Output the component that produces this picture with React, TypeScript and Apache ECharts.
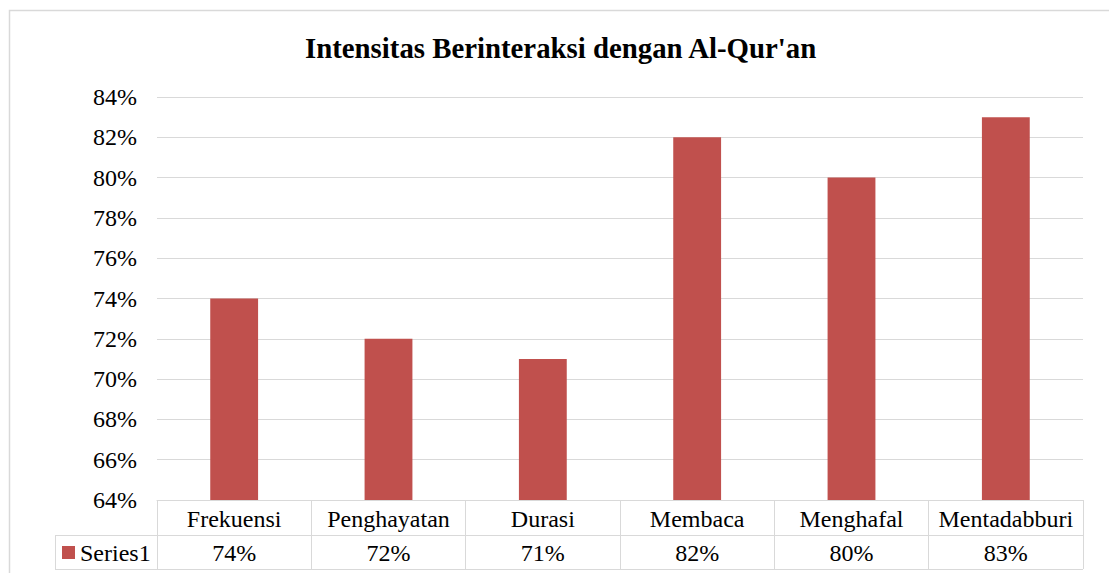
import React, { useEffect, useRef } from "react";
import * as echarts from "echarts";

const categories = ["Frekuensi", "Penghayatan", "Durasi", "Membaca", "Menghafal", "Mentadabburi"];
const values = [74, 72, 71, 82, 80, 83];
const seriesName = "Series1";
const title = "Intensitas Berinteraksi dengan Al-Qur'an";

const FONT = "'Liberation Serif', 'Times New Roman', serif";
const GRAY = "#d9d9d9";
const RED = "#c0504d";

export default function App() {
  const ref = useRef<HTMLDivElement>(null);
  useEffect(() => {
    if (!ref.current) return;
    const chart = echarts.init(ref.current, null, { renderer: "svg" });
    const L = 157, R = 1083, T = 97, B = 500;
    chart.setOption({
      animation: false,
      backgroundColor: "#fff",
      title: {
        text: title,
        left: 305,
        top: 33,
        padding: 0,
        textStyle: { fontFamily: FONT, fontSize: 28.8, fontWeight: "bold", color: "#000" },
      },
      grid: { left: L, right: 1109 - R, top: T, bottom: 573 - B },
      xAxis: [
        {
          type: "category",
          data: categories,
          position: "bottom",
          axisLine: { show: true, lineStyle: { color: GRAY, width: 1 } },
          axisTick: { show: true, interval: 0, length: 69, lineStyle: { color: GRAY, width: 1 } },
          axisLabel: { interval: 0, margin: 7, fontFamily: FONT, fontSize: 24, color: "#000" },
        },
        {
          type: "category",
          data: categories,
          position: "bottom",
          offset: 35,
          axisLine: { show: false },
          axisTick: { show: false },
          axisLabel: {
            interval: 0,
            margin: 6,
            fontFamily: FONT,
            fontSize: 24,
            color: "#000",
            formatter: (_v: string, i: number) => `${values[i]}%`,
          },
        },
      ],
      yAxis: {
        type: "value",
        min: 64,
        max: 84,
        interval: 2,
        axisLine: { show: false },
        axisTick: { show: false },
        splitLine: { lineStyle: { color: GRAY, width: 1 } },
        axisLabel: { margin: 20, fontFamily: FONT, fontSize: 24, color: "#000", formatter: (v: number) => `${v}%` },
      },
      series: [
        {
          name: seriesName,
          type: "bar",
          data: values,
          barWidth: "31%",
          itemStyle: { color: RED },
          xAxisIndex: 0,
        },
      ],
      graphic: [
        { type: "rect", shape: { x: 9.5, y: 10.5, width: 1300, height: 800 }, style: { fill: "none", stroke: GRAY, lineWidth: 1.5 }, silent: true },
        { type: "line", shape: { x1: 55, y1: 535.5, x2: R, y2: 535.5 }, style: { stroke: GRAY, lineWidth: 1 } },
        { type: "line", shape: { x1: 55, y1: 569.5, x2: R, y2: 569.5 }, style: { stroke: GRAY, lineWidth: 1 } },
        { type: "line", shape: { x1: 55.5, y1: 535, x2: 55.5, y2: 570 }, style: { stroke: GRAY, lineWidth: 1 } },
        { type: "rect", shape: { x: 62, y: 546, width: 13, height: 13 }, style: { fill: RED } },
        {
          type: "text",
          x: 80,
          y: 552.5,
          style: { text: seriesName, font: `24px ${FONT}`, fill: "#000", textVerticalAlign: "middle", verticalAlign: "middle" },
        },
      ],
    });
    return () => chart.dispose();
  }, []);
  return <div ref={ref} style={{ position: "fixed", left: 0, top: 0, width: 1109, height: 573 }} />;
}
